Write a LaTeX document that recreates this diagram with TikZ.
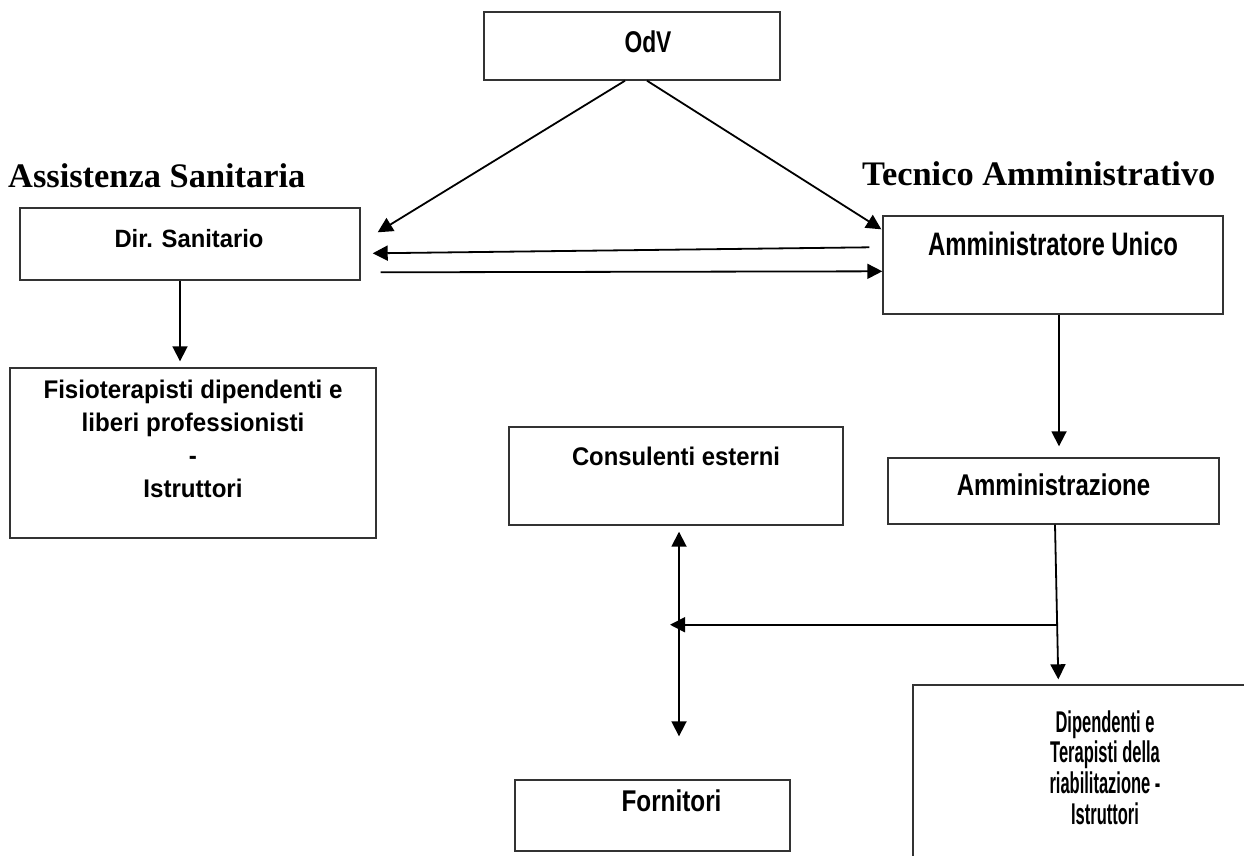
\documentclass[tikz,border=0pt]{standalone}
\usepackage{fontspec}
\usepackage{graphicx}
\setmainfont{Liberation Serif}
\setsansfont{Liberation Sans}
\usetikzlibrary{calc,arrows.meta}
% #1 dx, #2 raise of first baseline above centre, #3 size, #4 leading, #5 xscale, #6 text
\newcommand\bt[6]{\raisebox{#2pt}[0pt][0pt]{\makebox[0pt]{\hspace*{#1pt}\hspace*{#1pt}\scalebox{#5}[1]{\fontsize{#3}{#4}\selectfont\begin{tabular}[t]{@{}c@{}}#6\end{tabular}}}}}
\tikzset{
  box/.style={draw=black!80, line width=1.4pt, rectangle, inner sep=0pt, font=\sffamily\bfseries},
  conn/.style={line width=1.8pt, -{Triangle[length=15pt,width=15pt]}},
  dconn/.style={line width=1.8pt, {Triangle[length=15pt,width=15pt]}-{Triangle[length=15pt,width=15pt]}},
  head/.style={font=\rmfamily\bfseries\fontsize{34.4}{40}\selectfont, inner sep=0pt, anchor=base west}
}
\begin{document}
\begin{tikzpicture}[x=1pt,y=-1pt]
\useasboundingbox (0,0) rectangle (1244,855);
\fill[white] (0,0) rectangle (1244,855);
\clip (0,0) rectangle (1244,855);

\node[box, minimum width=296pt, minimum height=68pt] (odv) at (632,46) {\bt{16}{-6.3}{30}{36}{0.76}{OdV}};
\node[box, minimum width=340pt, minimum height=72pt] (dir) at (190,244) {\bt{-1}{-3.7}{25}{30}{0.951}{Dir. Sanitario}};
\node[box, minimum width=340pt, minimum height=98pt] (au) at (1053,265) {\bt{0}{10}{32.5}{38}{0.736}{Amministratore Unico}};
\node[box, minimum width=366pt, minimum height=170pt] (fis) at (193,453) {\bt{0}{55}{25.5}{33.3}{0.946}{Fisioterapisti dipendenti e\\liberi professionisti\\-\\Istruttori}};
\node[box, minimum width=334pt, minimum height=98pt] (cons) at (676,476) {\bt{0}{11}{25.5}{30}{0.935}{Consulenti esterni}};
\node[box, minimum width=331pt, minimum height=66pt] (am) at (1053.5,491) {\bt{0}{-4}{30}{36}{0.80}{Amministrazione}};
\node[box, minimum width=275pt, minimum height=71pt] (forn) at (652.5,815.5) {\bt{19}{3.8}{30}{36}{0.81}{Fornitori}};
\node[box, minimum width=384pt, minimum height=185pt] (dip) at (1105,777.5) {\bt{0}{45.5}{30}{30.7}{0.55}{Dipendenti e\\Terapisti della\\riabilitazione -\\Istruttori}};

\node[head] (hs) at (8,187) {Assistenza Sanitaria};
\node[head] (ht) at (862,185) {Tecnico Amministrativo};

% connectors
\draw[conn] ($(odv.south)+(-7,0)$) -- ($(dir.north east)+(17,25)$);
\draw[conn] ($(odv.south)+(15,0)$) -- ($(au.north west)+(-1,14)$);
\draw[conn] ($(au.north west)+(-13,32)$) -- ($(dir.north east)+(12,46)$);
\draw[conn] ($(dir.north east)+(20,65)$) -- ($(au.north west)+(0,56)$);
\draw[conn] ($(dir.south)+(-10,0)$) -- ($(fis.north)+(-13,-6)$);
\draw[conn] ($(au.south)+(6,0)$) -- ($(am.north)+(5.5,-11)$);
\coordinate (g1) at ($(am.south)+(1.5,0)$);
\coordinate (g2) at ($(dip.north west)+(146,-5)$);
\draw[conn] (g1) -- (g2);
\coordinate (j) at ($(g1)!0.647!(g2)$);
\coordinate (k) at ($(cons.south)+(-6,100)$);
\draw[conn] (j) -- (k |- j);
\draw[dconn] ($(cons.south)+(3,6)$) -- ($(forn.north)+(26.5,-43)$);
\end{tikzpicture}
\end{document}
